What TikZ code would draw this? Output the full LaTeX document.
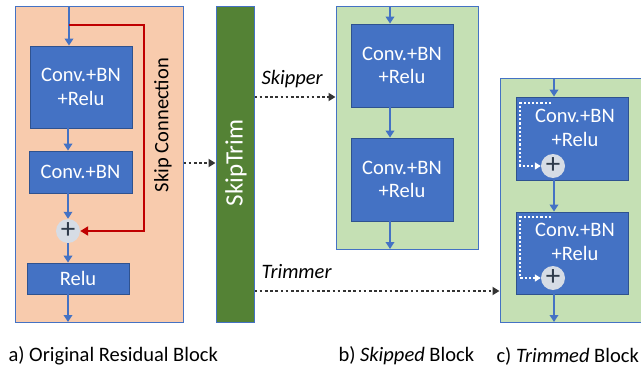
\documentclass[tikz,border=0pt]{standalone}
\usepackage{fontspec}
\setmainfont{Carlito}
\usetikzlibrary{arrows.meta}
\definecolor{boxblue}{HTML}{4472C4}
\definecolor{boxedge}{HTML}{2F528F}
\definecolor{peach}{HTML}{F8CBAD}
\definecolor{lightgreen}{HTML}{C5E0B4}
\definecolor{darkgreen}{HTML}{548235}
\definecolor{skipred}{HTML}{C00000}
\definecolor{plusfill}{HTML}{D6DCE5}
\definecolor{plusink}{HTML}{2E3A4A}
\definecolor{dotgrey}{HTML}{333333}
\tikzset{
  txt/.style={font=\fontsize{20.5}{23.5}\selectfont},
  block/.style={draw=boxblue, line width=1pt, inner sep=0pt},
  layer/.style={draw=boxedge, line width=0.8pt, fill=boxblue, text=white, align=center,
    inner sep=0pt, txt},
  sumnode/.style={circle, fill=plusfill, minimum size=24pt, inner sep=0pt, text=plusink,
    font=\fontsize{29}{29}\selectfont},
  flow/.style={draw=boxblue, line width=2.2pt, -{Triangle[length=7pt,width=8.5pt]}},
  hop/.style={draw=dotgrey, line width=2.8pt, dash pattern=on 2.6pt off 2.6pt,
    -{Triangle[length=7pt,width=8pt]}},
  inskip/.style={draw=white, line width=2.2pt, dash pattern=on 2.2pt off 2pt,
    -{Triangle[length=6pt,width=7pt]}},
}
\begin{document}
\begin{tikzpicture}[x=1pt,y=-1pt]
\useasboundingbox (0,0) rectangle (641,372);

% ---- a) original residual block ----
\node[block, fill=peach, minimum width=168pt, minimum height=316pt] (blka) at (99,164) {};
\node[layer, minimum width=102pt, minimum height=82pt] (c1a) at (81,87) {Conv.+BN\\+Relu};
\node[layer, minimum width=103pt, minimum height=42pt] (c2a) at (80.5,172) {Conv.+BN};
\node[sumnode] (suma) at (68,231) {+};
\node[layer, minimum width=102pt, minimum height=31pt] (rla) at (78,278.5) {Relu};
\coordinate (ina) at (69,6);
\coordinate (outa) at (68,322);
\coordinate (splita) at (69,25);
\draw[flow] (ina) -- (ina |- c1a.north);
\draw[flow] (c1a.south -| suma) -- (c2a.north -| suma);
\draw[flow] (c2a.south -| suma) -- (suma.north);
\draw[flow] (suma.south) -- (rla.north -| suma);
\draw[flow] (rla.south -| suma) -- (outa);
\draw[skipred, line width=2.4pt, -{Triangle[length=8pt,width=9pt]}]
  (splita) -- (144,25) -- (144,231) -- (suma.east);
\node[txt, rotate=90] (skiplbl) at (163,125) {Skip Connection};

% ---- SkipTrim bar ----
\node[block, fill=darkgreen, minimum width=38pt, minimum height=316pt] (st) at (235,164) {};
\node[rotate=90, text=white, font=\fontsize{25}{25}\selectfont] (sttxt) at (236,163) {SkipTrim};
\draw[hop] (blka.east |- 0,163) -- (st.west |- 0,163);

% ---- b) skipped block ----
\node[block, fill=lightgreen, minimum width=142pt, minimum height=243pt] (blkb) at (407,127.5) {};
\node[layer, minimum width=102pt, minimum height=83pt] (c1b) at (402,65.5) {Conv.+BN\\+Relu};
\node[layer, minimum width=102pt, minimum height=83pt] (c2b) at (402,179.5) {Conv.+BN\\+Relu};
\coordinate (inb) at (390,6);
\coordinate (outb) at (390,249);
\draw[flow] (inb) -- (inb |- c1b.north);
\draw[flow] (c1b.south -| inb) -- (c2b.north -| inb);
\draw[flow] (c2b.south -| inb) -- (outb);
\node[txt, font=\fontsize{20.5}{23.5}\selectfont\itshape, anchor=west] (skipper) at (258,79) {Skipper};
\draw[hop] (st.east |- 0,97) -- (blkb.west |- 0,97);

% ---- c) trimmed block ----
\node[block, fill=lightgreen, minimum width=170pt, minimum height=244pt] (blkc) at (585,200) {};
\node[layer, minimum width=112pt, minimum height=83pt] (c1c) at (572,138.5) {};
\node[layer, minimum width=112pt, minimum height=82pt] (c2c) at (572,253) {};
\node[text=white, align=center, txt] (t1c) at (575,128) {Conv.+BN\\+Relu};
\node[text=white, align=center, txt] (t2c) at (575,242) {Conv.+BN\\+Relu};
\node[sumnode] (s1c) at (553,166) {+};
\node[sumnode] (s2c) at (553,278) {+};
\coordinate (inc) at (554,78);
\coordinate (outc) at (554,322);
\draw[flow] (inc) -- (inc |- c1c.north);
\draw[flow] (c1c.south -| inc) -- (c2c.north -| inc);
\draw[flow] (c2c.south -| inc) -- (outc);
\coordinate (k1) at (551,103);
\coordinate (k2) at (551,217);
\draw[inskip] (k1) -- (520,103) -- (520,166) -- (s1c.west);
\draw[inskip] (k2) -- (520,217) -- (520,278) -- (s2c.west);
\node[txt, font=\fontsize{20.5}{23.5}\selectfont\itshape, anchor=west] (trimmer) at (258,272) {Trimmer};
\draw[hop] (st.east |- 0,291) -- (blkc.west |- 0,291);

% ---- captions ----
\node[txt, anchor=west] (capa) at (5,356) {a) Original Residual Block};
\node[txt, anchor=west] (capb) at (335,356) {b) \textit{Skipped} Block};
\node[txt, anchor=west] (capc) at (493,356) {c) \textit{Trimmed} Block};
\end{tikzpicture}
\end{document}
